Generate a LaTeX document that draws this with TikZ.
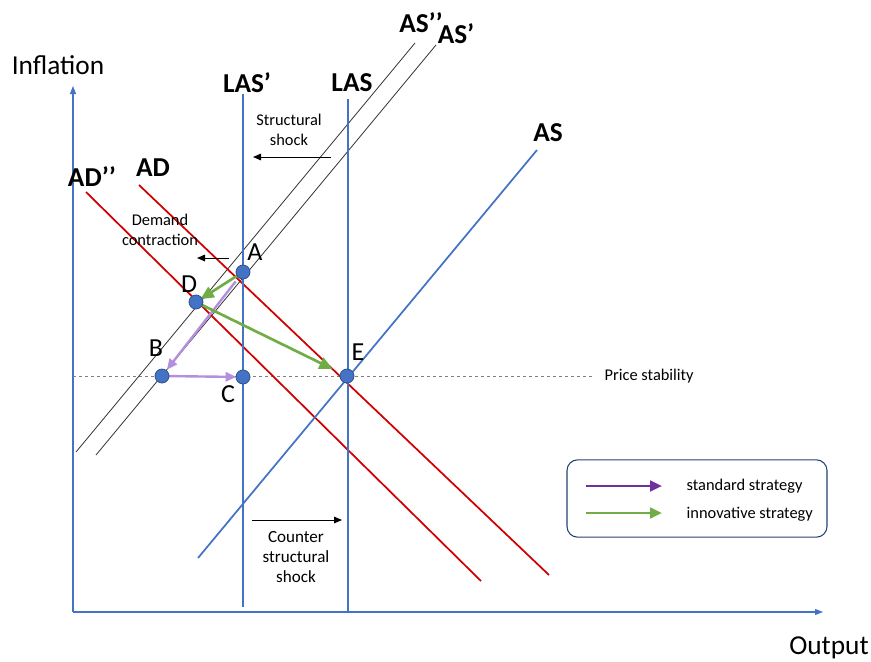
\documentclass[tikz,border=0pt]{standalone}
\usepackage{fontspec}
\setmainfont{Carlito}
\usetikzlibrary{arrows.meta}
\definecolor{axblue}{HTML}{4472C4}
\definecolor{dotedge}{HTML}{2F528F}
\definecolor{adred}{HTML}{D00000}
\definecolor{ggreen}{HTML}{70AD47}
\definecolor{dpurple}{HTML}{7030A0}
\definecolor{lpurple}{HTML}{B48FDC}
\begin{document}
\begin{tikzpicture}[x=0.75pt,y=-0.75pt,
  axis/.style={axblue,line width=0.9pt,-{Triangle[length=6pt,width=4.5pt]}},
  vline/.style={axblue,line width=1.3pt},
  redline/.style={adred,line width=1.3pt},
  blkline/.style={black!80,line width=0.6pt},
  curvelab/.style={font=\bfseries\fontsize{20.5}{22}\selectfont},
  pointlab/.style={font=\fontsize{19.5}{21}\selectfont},
  smalltxt/.style={font=\fontsize{12.3}{15}\selectfont,align=center},
  dot/.style={circle,fill=axblue,draw=dotedge,line width=0.6pt,minimum size=10.5pt,inner sep=0pt},
  shockarrow/.style={black,line width=0.7pt,-{Triangle[length=6pt,width=5pt]}},
  greenarrow/.style={ggreen,line width=2pt,-{Triangle[length=10pt,width=9pt]}},
  purplearrow/.style={lpurple,line width=1.8pt,-{Triangle[length=8pt,width=7pt]}},
  legarrow/.style={line width=2pt,-{Triangle[length=9pt,width=8pt]}}]
\useasboundingbox (0,0) rectangle (871,661);
% coordinates
\coordinate (O) at (73,612);
\coordinate (Ytop) at (73,86);
\coordinate (Xend) at (823,612);
\coordinate (LASpT) at (243,94);
\coordinate (LASpB) at (243,607);
\coordinate (LAST) at (348,99);
\coordinate (LASB) at (348,612);
\coordinate (ASb) at (198,558);
\coordinate (ASt) at (537,150);
\coordinate (ASppb) at (76,452);
\coordinate (ASppt) at (415,43);
\coordinate (ASpb) at (96,455);
\coordinate (ASpt) at (436,45);
\coordinate (ADt) at (139,185);
\coordinate (ADb) at (549,575);
\coordinate (ADppt) at (86,192);
\coordinate (ADppb) at (481,581);
\coordinate (PSl) at (73,376);
\coordinate (PSr) at (592,376);
% axes
\draw[axis] (O) -- (Ytop);
\draw[axis] (O) -- (Xend);
\node[font=\fontsize{20.5}{22}\selectfont] (inflab) at (58,65) {Inflation};
\node[font=\fontsize{20.5}{22}\selectfont] (outlab) at (829,648) {Output};
% price stability
\draw[gray,dashed,line width=0.5pt,dash pattern=on 2.5pt off 2pt] (PSl) -- (PSr);
\node[smalltxt,anchor=west] (pslab) at (600,376) {Price stability};
% curves
\draw[blkline] (ASppb) -- (ASppt);
\draw[blkline] (ASpb) -- (ASpt);
\draw[redline] (ADppt) -- (ADppb);
\draw[redline] (ADt) -- (ADb);
\draw[vline] (LASpT) -- (LASpB);
\draw[vline] (LAST) -- (LASB);
\draw[vline] (ASb) -- (ASt);
% curve labels
\node[curvelab] (laspl) at (247,83) {LAS’};
\node[curvelab] (lasl) at (352,83) {LAS};
\node[curvelab] (aspp) at (421,23) {AS’’};
\node[curvelab] (asp) at (456,34) {AS’};
\node[curvelab] (asl) at (548,133) {AS};
\node[curvelab] (adl) at (153,168) {AD};
\node[curvelab] (adppl) at (92,177) {AD’’};
% shock annotations
\node[smalltxt] (ss) at (289,130) {Structural\\shock};
\coordinate (ss1) at (331,157);
\coordinate (ss2) at (253,157);
\draw[shockarrow] (ss1) -- (ss2);
\node[smalltxt] (dc) at (160,230) {Demand\\contraction};
\coordinate (dc1) at (229,258);
\coordinate (dc2) at (197,258);
\draw[shockarrow] (dc1) -- (dc2);
\node[smalltxt,font=\fontsize{12.8}{15.2}\selectfont] (css) at (296,557) {Counter\\structural\\shock};
\coordinate (cs1) at (252,520);
\coordinate (cs2) at (342,520);
\draw[shockarrow] (cs1) -- (cs2);
% points
\coordinate (A) at (243,272);
\coordinate (D) at (196,302);
\coordinate (B) at (162,376);
\coordinate (C) at (243,377);
\coordinate (E) at (347,376);
% strategy arrows
\draw[purplearrow,shorten <=9pt,shorten >=6pt] (A) -- (B);
\draw[purplearrow,shorten <=5pt,shorten >=5pt] (B) -- (C);
\draw[greenarrow,shorten <=4pt,shorten >=4pt] (A) -- (D);
\draw[greenarrow,shorten <=5pt,shorten >=12pt] (D) -- (E);
% dots
\node[dot] (nA) at (A) {};
\node[dot] (nD) at (D) {};
\node[dot] (nB) at (B) {};
\node[dot] (nC) at (C) {};
\node[dot] (nE) at (E) {};
\node[pointlab] (lA) at (255,252) {A};
\node[pointlab] (lD) at (189,284) {D};
\node[pointlab] (lB) at (156,348) {B};
\node[pointlab] (lC) at (228,394) {C};
\node[pointlab] (lE) at (358,352) {E};
% legend
\node[draw=dotedge!80!black,line width=0.8pt,rounded corners=8pt,minimum width=195pt,minimum height=58pt] (leg) at (697,498.5) {};
\coordinate (l1a) at (586,486);
\coordinate (l1b) at (662,486);
\coordinate (l2a) at (586,513);
\coordinate (l2b) at (662,513);
\draw[legarrow,dpurple] (l1a) -- (l1b);
\draw[legarrow,ggreen] (l2a) -- (l2b);
\node[smalltxt,anchor=west] (st) at (682,486) {standard strategy};
\node[smalltxt,anchor=west] (it) at (682,514) {innovative strategy};
\end{tikzpicture}
\end{document}
